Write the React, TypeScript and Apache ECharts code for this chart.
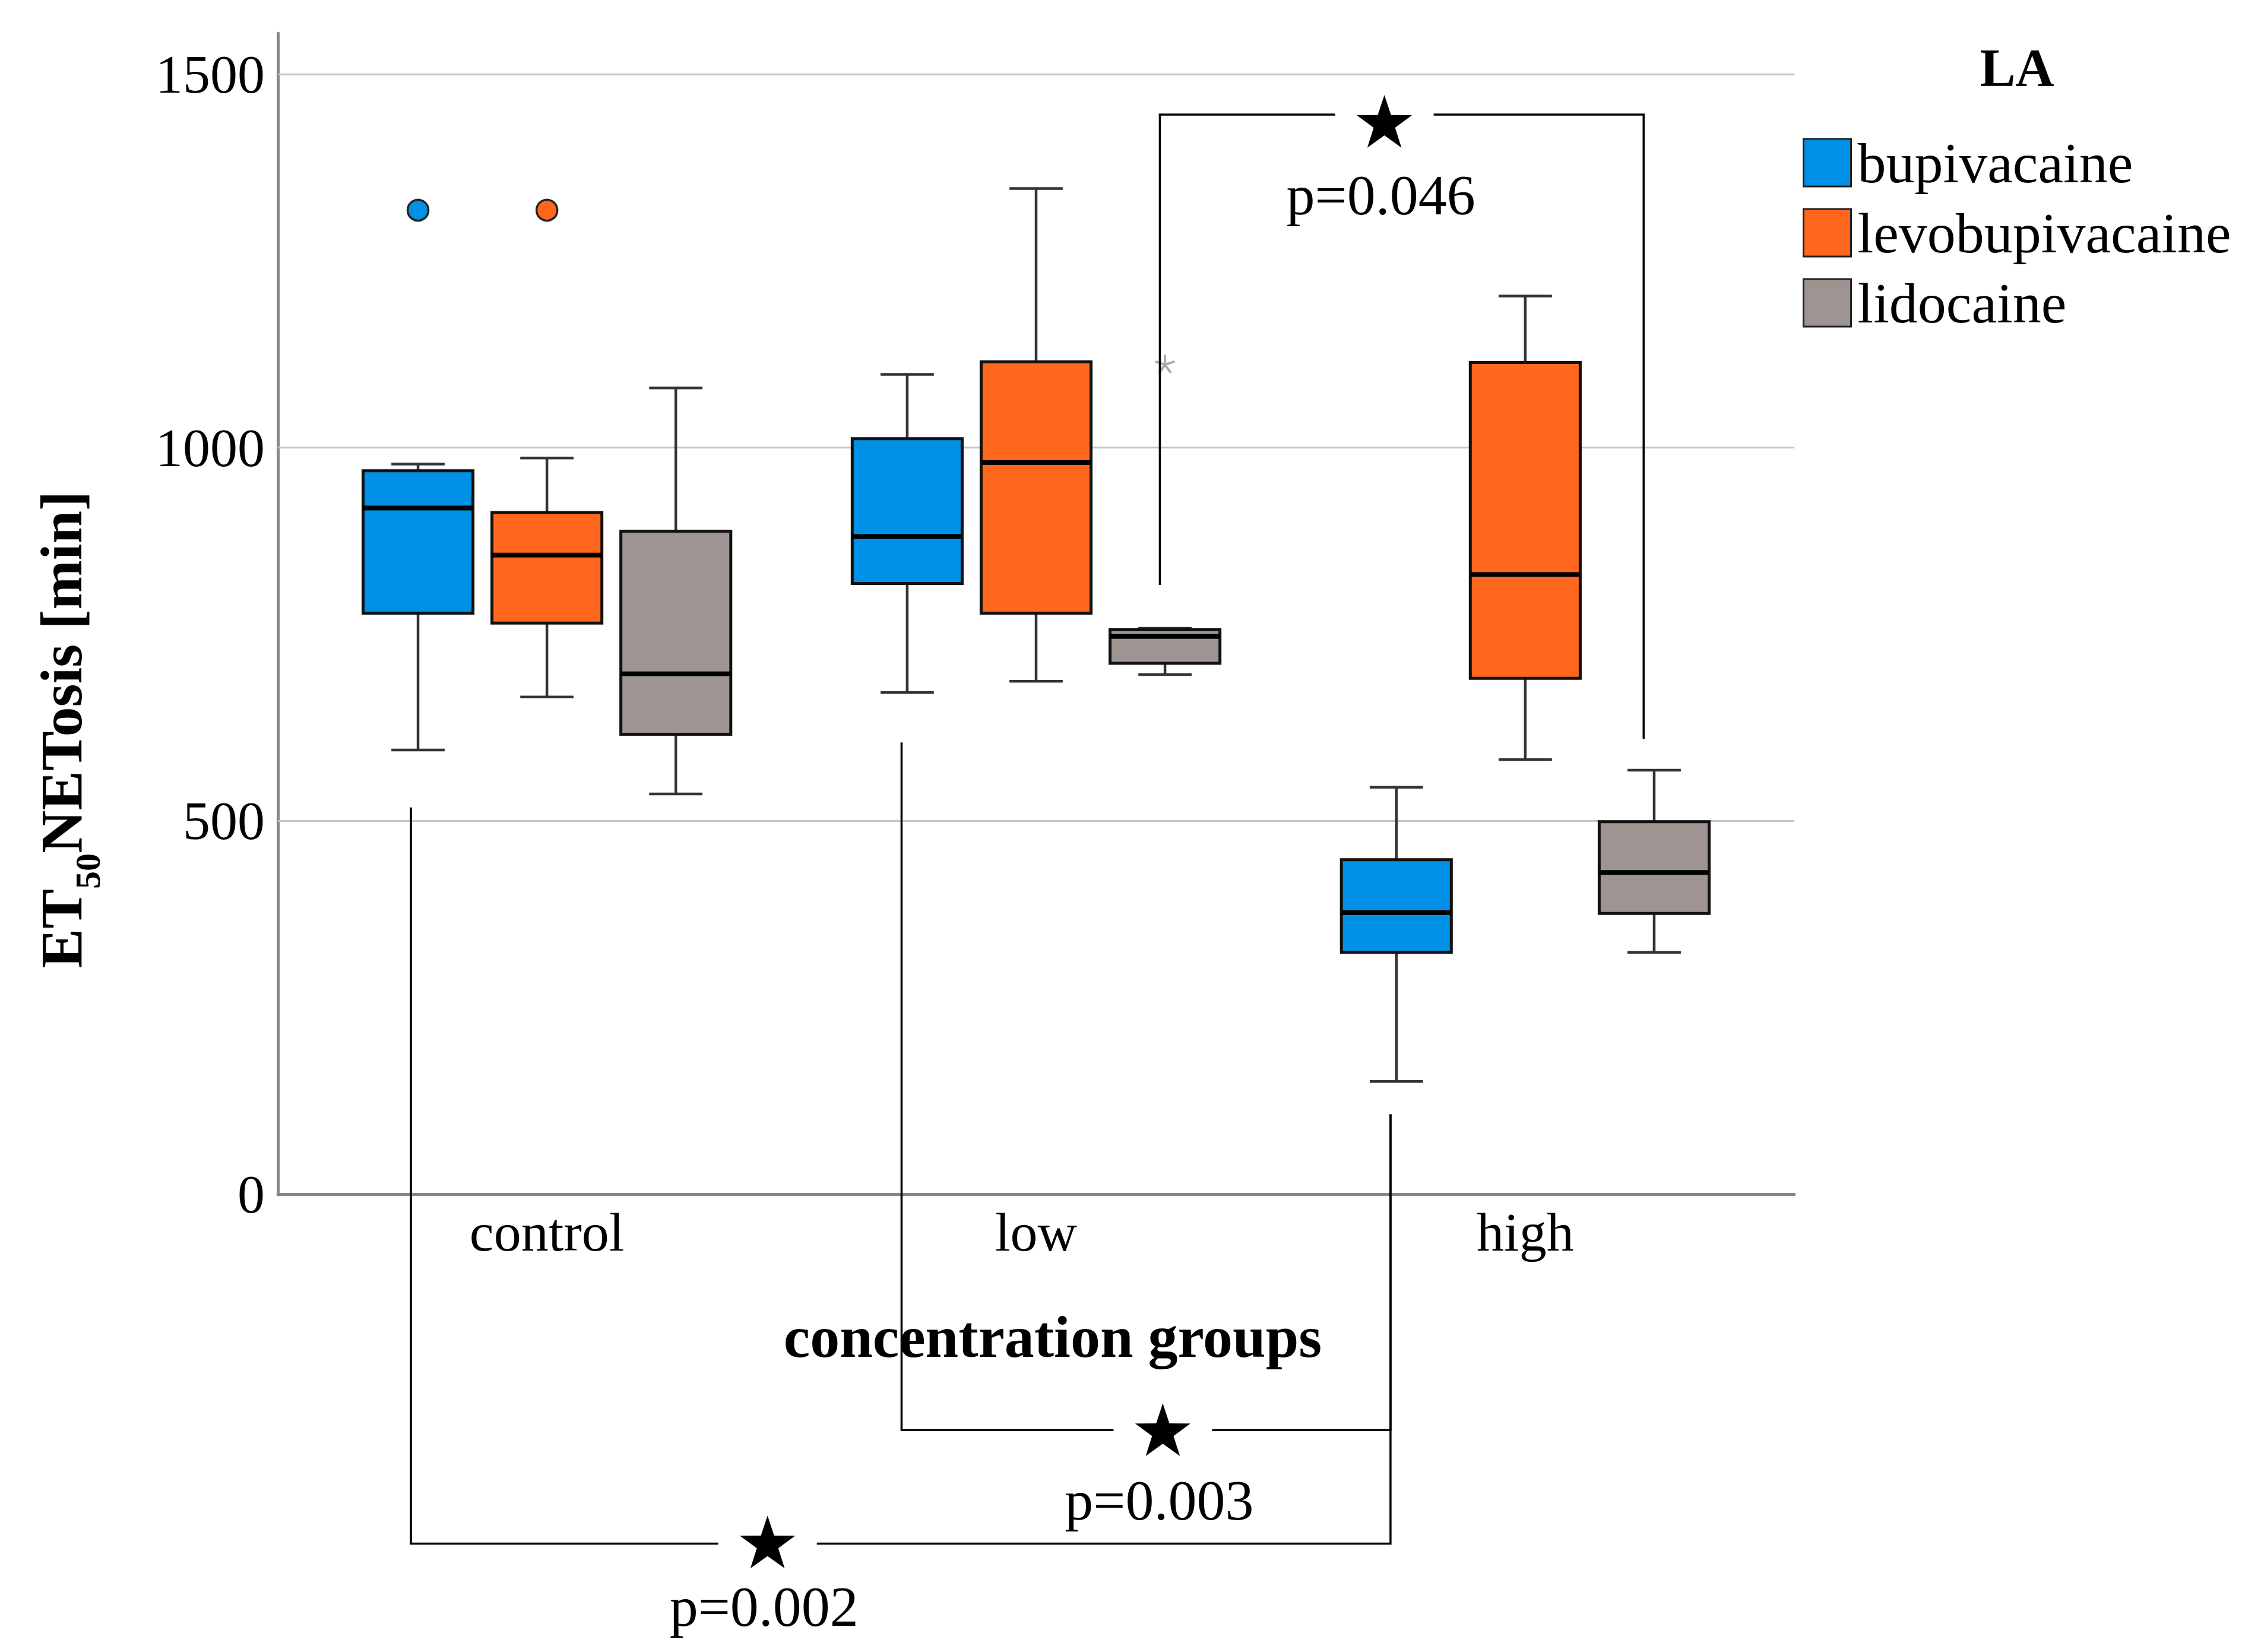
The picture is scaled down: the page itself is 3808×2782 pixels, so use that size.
import React, { useEffect, useRef } from "react";
import * as echarts from "echarts";

// ---------- data ----------
const categories = ["control", "low", "high"];
const drugs = ["bupivacaine", "levobupivacaine", "lidocaine"];

// [min, q1, median, q3, max] for control, low, high
const bupivacaine = [
  [595, 778, 919, 969, 978],
  [672, 818, 881, 1012, 1098],
  [151, 324, 377, 448, 545],
];
const levobupivacaine = [
  [666, 765, 856, 913, 986],
  [687, 778, 980, 1115, 1347],
  [582, 691, 830, 1114, 1203],
];
const lidocaine = [
  [536, 616, 697, 888, 1080],
  [696, 711, 747, 756, 758],
  [324, 376, 431, 499, 568],
];
// [category index, drug index, value]
const outliers = [
  [0, 0, 1318],
  [0, 1, 1318],
];
const extremes = [[1, 2, 1111]];
const yTicks = [0, 500, 1000, 1500];
const gridValues = [500, 1000, 1500];

// significance comparisons (x in category units, y in minutes)
const comparisons = [
  { label: "p=0.046", from: 1.253, to: 2.242, fromY: 816, toY: 610, level: 1446, mark: 1.712 },
  { label: "p=0.003", from: 0.725, to: 1.7245, fromY: 605, toY: 107, level: -316, mark: 1.259 },
  { label: "p=0.002", from: -0.278, to: 1.7245, fromY: 518, toY: 107, level: -468, mark: 0.451 },
];

// ---------- styles ----------
const FONT = "Liberation Serif";
const colors = ["#0090E6", "#FF671F", "#9E9593"];
const offsets = [-0.2635, 0, 0.2635];
const BOX_W = 0.2247;
const CAP_W = 0.109;
const textDy = [135, 118, 106];
const starDy = [16, 4, 2];

function starPoints(cx: number, cy: number, R: number, r: number) {
  const pts: number[][] = [];
  for (let i = 0; i < 10; i++) {
    const rad = i % 2 === 0 ? R : r;
    const a = -Math.PI / 2 + (i * Math.PI) / 5;
    pts.push([cx + rad * Math.cos(a), cy + rad * Math.sin(a)]);
  }
  return pts;
}

export default function App() {
  const ref = useRef<HTMLDivElement>(null);

  useEffect(() => {
    if (!ref.current) return;
    const chart = echarts.init(ref.current, undefined, { renderer: "svg" });
    const sets = [bupivacaine, levobupivacaine, lidocaine];

    const boxSeries = sets.map((rows, k) => ({
      type: "custom",
      name: drugs[k],
      z: 3,
      itemStyle: { color: colors[k], borderColor: "#222", borderWidth: 3 },
      encode: { x: 0, y: [1, 2, 3, 4, 5] },
      data: rows.map((r, c) => [c, ...r]),
      renderItem: (params: any, api: any) => {
        const x = api.value(0) + offsets[k];
        const pMin = api.coord([x, api.value(1)]);
        const pQ1 = api.coord([x, api.value(2)]);
        const pMed = api.coord([x, api.value(3)]);
        const pQ3 = api.coord([x, api.value(4)]);
        const pMax = api.coord([x, api.value(5)]);
        const half = api.size([BOX_W, 0])[0] / 2;
        const cap = api.size([CAP_W, 0])[0] / 2;
        const cx = pMed[0];
        const wStyle = { stroke: "#333333", lineWidth: 4.5 };
        return {
          type: "group",
          children: [
            { type: "line", shape: { x1: cx, y1: pMax[1], x2: cx, y2: pQ3[1] }, style: wStyle },
            { type: "line", shape: { x1: cx, y1: pMin[1], x2: cx, y2: pQ1[1] }, style: wStyle },
            { type: "line", shape: { x1: cx - cap, y1: pMax[1], x2: cx + cap, y2: pMax[1] }, style: wStyle },
            { type: "line", shape: { x1: cx - cap, y1: pMin[1], x2: cx + cap, y2: pMin[1] }, style: wStyle },
            {
              type: "rect",
              shape: { x: cx - half, y: pQ3[1], width: half * 2, height: pQ1[1] - pQ3[1] },
              style: { fill: colors[k], stroke: "#111", lineWidth: 5 },
            },
            {
              type: "line",
              shape: { x1: cx - half, y1: pMed[1], x2: cx + half, y2: pMed[1] },
              style: { stroke: "#000", lineWidth: 8 },
            },
          ],
        };
      },
    }));

    const option: any = {
      animation: false,
      backgroundColor: "#ffffff",
      textStyle: { fontFamily: FONT },
      grid: { left: 468, right: 786, top: 56, bottom: 771 },
      legend: {
        orient: "vertical",
        left: 3031,
        top: 221,
        itemWidth: 80,
        itemHeight: 80,
        itemGap: 22,
        selectedMode: false,
        textStyle: { fontFamily: FONT, fontSize: 96, lineHeight: 80, color: "#000", padding: [0, 0, 0, 6] },
        data: drugs.map((d, i) => ({
          name: d,
          icon: "rect",
          itemStyle: { color: colors[i], borderColor: "#222", borderWidth: 3 },
        })),
      },
      graphic: [
        {
          type: "text",
          x: 3397,
          y: 114,
          style: {
            text: "LA",
            align: "center",
            verticalAlign: "middle",
            fontFamily: FONT,
            fontWeight: "bold",
            fontSize: 90,
            fill: "#000",
          },
        },
      ],
      xAxis: {
        type: "value",
        min: -0.55,
        max: 2.55,
        name: "concentration groups",
        nameLocation: "middle",
        nameGap: 190,
        nameTextStyle: {
          fontFamily: FONT,
          fontWeight: "bold",
          fontSize: 100,
          color: "#000",
          padding: [0, 0, 0, 56],
        },
        axisLine: { show: true, onZero: false, lineStyle: { color: "#888", width: 5 } },
        axisTick: { show: false },
        splitLine: { show: false },
        axisLabel: {
          customValues: [0, 1, 2],
          formatter: (v: number) => (Number.isInteger(v) && categories[v] ? categories[v] : ""),
          fontFamily: FONT,
          fontSize: 92,
          color: "#000",
          margin: 18,
        },
      },
      yAxis: {
        type: "value",
        min: 0,
        max: 1555,
        interval: 500,
        name: "{a|ET}{b|50}{a|NETosis [min]}",
        nameLocation: "middle",
        nameRotate: 90,
        nameGap: 290,
        nameTextStyle: {
          padding: [0, 390, 0, 0],
          rich: {
            a: { fontFamily: FONT, fontWeight: "bold", fontSize: 100, color: "#000", lineHeight: 100 },
            b: {
              fontFamily: FONT,
              fontWeight: "bold",
              fontSize: 60,
              color: "#000",
              lineHeight: 150,
              verticalAlign: "bottom",
            },
          },
        },
        axisLine: { show: true, onZero: false, lineStyle: { color: "#888", width: 5 } },
        axisTick: { show: false },
        splitLine: { show: false },
        axisLabel: {
          formatter: (v: number) => (yTicks.includes(v) ? String(v) : ""),
          fontFamily: FONT,
          fontSize: 92,
          color: "#000",
          margin: 22,
        },
      },
      series: [
        {
          type: "custom",
          name: "grid",
          z: 1,
          silent: true,
          data: gridValues.map((v) => [0, v]),
          encode: { x: 0, y: 1 },
          renderItem: (params: any, api: any) => {
            const cs = params.coordSys;
            const y = api.coord([0, api.value(1)])[1];
            return {
              type: "line",
              shape: { x1: cs.x, y1: y, x2: cs.x + cs.width, y2: y },
              style: { stroke: "#c4c4c4", lineWidth: 3 },
            };
          },
        },
        ...boxSeries,
        {
          type: "scatter",
          name: "outliers",
          z: 4,
          symbol: "circle",
          symbolSize: 35,
          data: outliers.map(([c, d, v]) => ({
            value: [c + offsets[d], v],
            itemStyle: { color: colors[d], borderColor: "#222", borderWidth: 3.5, opacity: 1 },
          })),
        },
        {
          type: "custom",
          name: "extremes",
          z: 4,
          data: extremes.map(([c, d, v]) => [c + offsets[d], v]),
          encode: { x: 0, y: 1 },
          renderItem: (params: any, api: any) => {
            const p = api.coord([api.value(0), api.value(1)]);
            const children = [];
            for (let i = 0; i < 5; i++) {
              const a = -Math.PI / 2 + (i * 2 * Math.PI) / 5;
              children.push({
                type: "line",
                shape: { x1: p[0], y1: p[1], x2: p[0] + 17 * Math.cos(a), y2: p[1] + 17 * Math.sin(a) },
                style: { stroke: "#aaaaaa", lineWidth: 4 },
              });
            }
            return { type: "group", children };
          },
        },
        {
          type: "custom",
          name: "comparisons",
          z: 5,
          clip: false,
          silent: true,
          data: comparisons.map((c, i) => [i, c.level]),
          encode: { x: 0, y: 1 },
          renderItem: (params: any, api: any) => {
            const i = api.value(0);
            const c = comparisons[i];
            const a = api.coord([c.from, c.fromY]);
            const b = api.coord([c.to, c.toY]);
            const l = api.coord([c.mark, c.level]);
            const y = l[1];
            const gap = 83;
            const ls = { stroke: "#000", lineWidth: 3.5, fill: "none" };
            return {
              type: "group",
              children: [
                {
                  type: "polyline",
                  shape: { points: [[a[0], a[1]], [a[0], y], [l[0] - gap, y]] },
                  style: ls,
                },
                {
                  type: "polyline",
                  shape: { points: [[l[0] + gap, y], [b[0], y], [b[0], b[1]]] },
                  style: ls,
                },
                {
                  type: "polygon",
                  shape: { points: starPoints(l[0], y + starDy[i], 49, 19) },
                  style: { fill: "#000" },
                },
                {
                  type: "text",
                  x: l[0] - 6,
                  y: y + textDy[i],
                  style: {
                    text: c.label,
                    align: "center",
                    verticalAlign: "middle",
                    fontFamily: FONT,
                    fontSize: 96,
                    fill: "#000",
                  },
                },
              ],
            };
          },
        },
      ],
    };
    chart.setOption(option);
    return () => chart.dispose();
  }, []);

  return (
    <div
      ref={ref}
      style={{ position: "absolute", left: 0, top: 0, width: 3808, height: 2782, background: "#fff" }}
    />
  );
}
